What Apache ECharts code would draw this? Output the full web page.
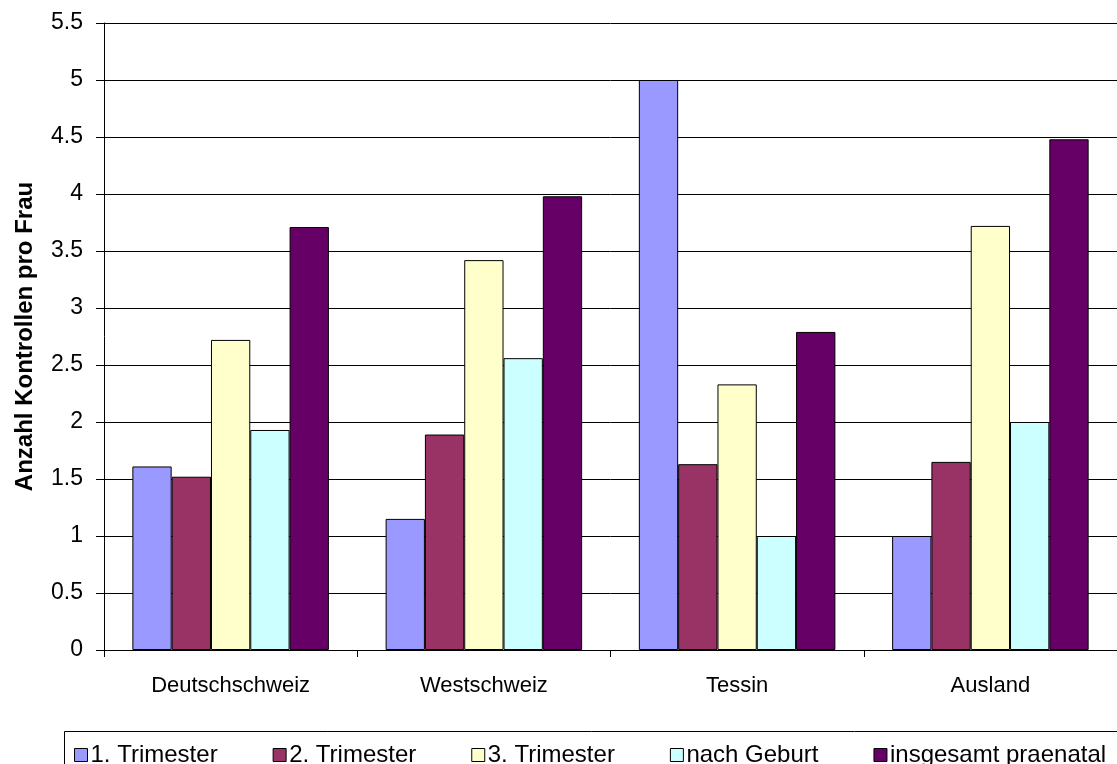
<!DOCTYPE html>
<html>
<head>
<meta charset="utf-8">
<script src="https://cdn.jsdelivr.net/npm/echarts@6/dist/echarts.min.js"></script>
<style>
  html, body { margin: 0; padding: 0; background: #fff; }
  #chart { width: 1117px; height: 764px; }
</style>
</head>
<body>
<div id="chart"></div>
<script>
// Regionen
const categories = ['Deutschschweiz', 'Westschweiz', 'Tessin', 'Ausland'];
// Kontrollen pro Frau
const trimester1 = [1.61, 1.15, 5.0, 1.0];
const trimester2 = [1.52, 1.89, 1.63, 1.65];
const trimester3 = [2.72, 3.42, 2.33, 3.72];
const nachGeburt = [1.93, 2.56, 1.0, 2.0];
const insgesamt = [3.71, 3.98, 2.79, 4.48];
const seriesNames = ['1. Trimester', '2. Trimester', '3. Trimester', 'nach Geburt', 'insgesamt praenatal'];
const seriesData = [trimester1, trimester2, trimester3, nachGeburt, insgesamt];
const colors = ['#9999FF', '#993366', '#FFFFCC', '#CCFFFF', '#660066'];

const font = "'Liberation Sans', Arial, sans-serif";

const option = {
  backgroundColor: '#ffffff',
  animation: false,
  color: colors,
  textStyle: { fontFamily: font },
  grid: {
    left: 104,
    top: 23,
    width: 1016,
    height: 627
  },
  legend: {
    left: 69,
    top: 738,
    itemWidth: 13,
    itemHeight: 13,
    itemGap: 55,
    icon: 'rect',
    itemStyle: { borderColor: '#000', borderWidth: 1 },
    textStyle: { fontFamily: font, fontSize: 24, color: '#000', padding: [0, 0, 0, -2] },
    data: seriesNames
  },
  graphic: [{
    type: 'rect',
    left: 62,
    top: 729,
    shape: { width: 1100, height: 60 },
    style: { fill: 'none', stroke: '#000', lineWidth: 1 },
    silent: true
  }],
  xAxis: {
    type: 'category',
    data: categories,
    axisLine: { lineStyle: { color: '#000', width: 1 } },
    axisTick: { show: true, length: 7, lineStyle: { color: '#000' } },
    axisLabel: { color: '#000', fontSize: 22, margin: 25, fontFamily: font }
  },
  yAxis: {
    type: 'value',
    min: 0,
    max: 5.5,
    interval: 0.5,
    name: 'Anzahl Kontrollen pro Frau',
    nameLocation: 'middle',
    nameRotate: 90,
    nameGap: 67,
    nameTextStyle: { fontWeight: 'bold', fontSize: 24, color: '#000', fontFamily: font },
    axisLine: { show: true, lineStyle: { color: '#000', width: 1 } },
    axisTick: { show: true, length: 8, lineStyle: { color: '#000' } },
    axisLabel: { color: '#000', fontSize: 23, margin: 21, fontFamily: font },
    splitLine: { show: true, lineStyle: { color: '#000', width: 1 } }
  },
  series: seriesNames.map((name, i) => ({
    name: name,
    type: 'bar',
    data: seriesData[i],
    barGap: '0%',
    barCategoryGap: '22.4%',
    itemStyle: { color: colors[i], borderColor: '#000', borderWidth: 1 }
  }))
};

const chart = echarts.init(document.getElementById('chart'));
chart.setOption(option);
</script>
</body>
</html>
